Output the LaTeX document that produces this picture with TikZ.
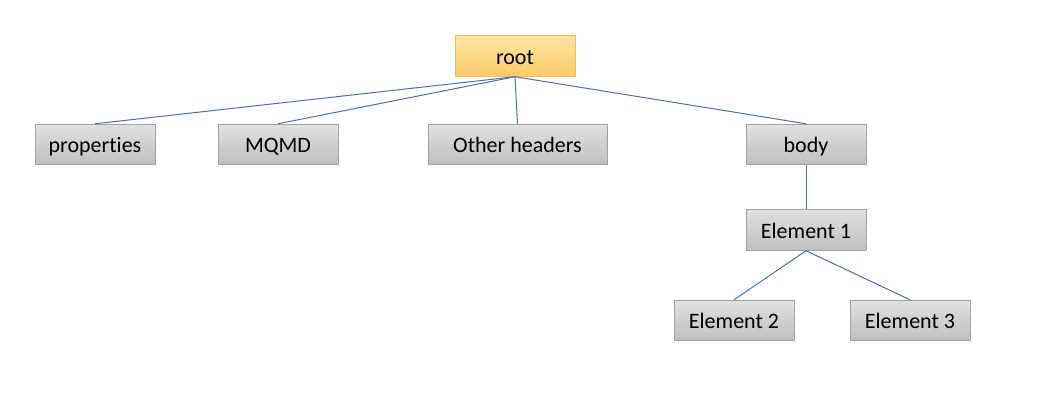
\documentclass[tikz,border=0pt]{standalone}
\usepackage{fontspec}
\setmainfont{Carlito}[Ligatures=NoCommon]
\begin{document}
\begin{tikzpicture}[x=0.75pt,y=-0.75pt,
  box/.style={draw=graybd, top color=graytop, bottom color=graybot, minimum width=90pt, minimum height=30.5pt, inner sep=0pt, text height=13.5pt, text depth=1.5pt, font=\fontsize{16.5}{19}\selectfont, line width=0.6pt},
  rootbox/.style={box, draw=rootbd, top color=roottop, bottom color=rootbot},
  link/.style={draw=linkc, line width=0.75pt}]
\definecolor{graybd}{HTML}{A3A3A3}
\definecolor{graytop}{HTML}{E0E0E0}
\definecolor{graybot}{HTML}{BFBFBF}
\definecolor{rootbd}{HTML}{F2C14E}
\definecolor{roottop}{HTML}{FFE4A0}
\definecolor{rootbot}{HTML}{FBCB6A}
\definecolor{linkc}{HTML}{4A72B0}
\useasboundingbox (0,0) rectangle (1053,414);
\fill[white] (0,0) rectangle (1053,414);
\node[rootbox] (root) at (515,56) {root};
\node[box] (prop) at (95,144.5) {properties};
\node[box] (mqmd) at (278,144.5) {MQMD};
\node[box, minimum width=134.25pt] (oth) at (517.5,144.5) {Other headers};
\node[box] (body) at (806,144.5) {body};
\node[box] (e1) at (806,230) {Element 1};
\node[box] (e2) at (734,320.5) {Element 2};
\node[box] (e3) at (910,320.5) {Element 3};
\draw[link] (root.south) -- (prop.north);
\draw[link] (root.south) -- (mqmd.north);
\draw[link] (root.south) -- (oth.north);
\draw[link] (root.south) -- (body.north);
\draw[link] (body.south) -- (e1.north);
\draw[link] (e1.south) -- (e2.north);
\draw[link] (e1.south) -- (e3.north);
\end{tikzpicture}
\end{document}
